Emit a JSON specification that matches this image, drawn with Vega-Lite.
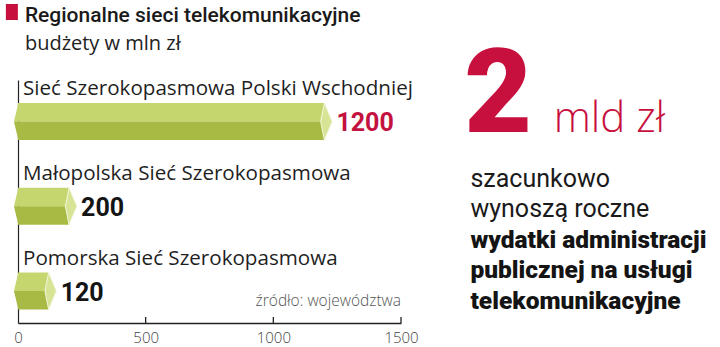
{
  "$schema": "https://vega.github.io/schema/vega-lite/v6.json",
  "width": 383,
  "height": 243,
  "padding": {"left": 5, "top": 4, "right": 0, "bottom": 0},
  "background": "white",
  "config": {"view": {"stroke": null}, "text": {"font": "Roboto"}},
  "datasets": {
    "budgets": [
      {"name": "Sieć Szerokopasmowa Polski Wschodniej", "value": 1200},
      {"name": "Małopolska Sieć Szerokopasmowa", "value": 200},
      {"name": "Pomorska Sieć Szerokopasmowa", "value": 120}
    ],
    "header": [
      {"title": "Regionalne sieci telekomunikacyjne", "subtitle": "budżety w mln zł", "amount": "2", "unit": "mld zł", "source": "źródło: województwa"}
    ],
    "note": [
      {"line": 1, "text": "szacunkowo"},
      {"line": 2, "text": "wynoszą roczne"},
      {"line": 3, "text": "wydatki administracji"},
      {"line": 4, "text": "publicznej na usługi"},
      {"line": 5, "text": "telekomunikacyjne"}
    ],
    "axisticks": [
      {"tick": 500},
      {"tick": 1000},
      {"tick": 1500}
    ]
  },
  "resolve": {"scale": {"y": "independent"}},
  "layer": [
    {
      "data": {"name": "budgets"},
      "encoding": {
        "y": {
          "field": "name", "type": "nominal", "sort": null, "title": null,
          "scale": {"type": "point", "padding": 0.434, "align": 0.565},
          "axis": {"domain": true, "ticks": false, "labels": false, "grid": false, "title": null, "domainColor": "#222222", "domainWidth": 1.2}
        }
      },
      "layer": [
        {
          "mark": {"type": "bar", "orient": "horizontal", "height": 18.5, "yOffset": -9.25, "color": "#c6d66e"},
          "encoding": {
            "x": {
              "field": "value", "type": "quantitative", "title": null,
              "scale": {"domain": [0, 1500], "nice": false, "zero": true},
              "axis": {"values": [0, 500, 1000, 1500], "format": "d", "title": null, "grid": false, "domainColor": "#222222", "domainWidth": 1.4, "ticks": false, "labelPadding": 7, "labelFont": "Open Sans", "labelFontSize": 15, "labelFontWeight": 300, "labelColor": "#444444", "labelFlush": false}
            }
          }
        },
        {
          "mark": {"type": "bar", "orient": "horizontal", "height": 18.5, "yOffset": 9.25, "color": "#a8ba44"},
          "encoding": {
            "x": {"field": "value", "type": "quantitative", "title": null, "scale": {"domain": [0, 1500], "nice": false, "zero": true}}
          }
        },
        {
          "mark": {"type": "point", "shape": "M0,-1L0.42,0L0,1L-0.2,0Z", "size": 1369, "filled": true, "opacity": 1, "fill": "#d7e495", "stroke": "#f3f7de", "strokeWidth": 1},
          "encoding": {
            "x": {"field": "value", "type": "quantitative", "title": null, "scale": {"domain": [0, 1500], "nice": false, "zero": true}}
          }
        },
        {
          "mark": {"type": "point", "shape": "M0.02,-1L-0.22,0L0.02,0Z", "size": 1369, "filled": true, "opacity": 1, "fill": "#c6d66e", "strokeWidth": 0},
          "encoding": {
            "x": {"datum": 0, "type": "quantitative", "title": null, "scale": {"domain": [0, 1500], "nice": false, "zero": true}}
          }
        },
        {
          "mark": {"type": "point", "shape": "M0.02,0L-0.22,0L0.02,1Z", "size": 1369, "filled": true, "opacity": 1, "fill": "#a8ba44", "strokeWidth": 0},
          "encoding": {
            "x": {"datum": 0, "type": "quantitative", "title": null, "scale": {"domain": [0, 1500], "nice": false, "zero": true}}
          }
        },
        {
          "mark": {"type": "text", "align": "left", "baseline": "alphabetic", "dx": 5, "dy": -26.5, "font": "Open Sans", "fontSize": 20.6, "color": "#1f1f1f"},
          "encoding": {
            "x": {"datum": 0, "type": "quantitative", "title": null, "scale": {"domain": [0, 1500], "nice": false, "zero": true}},
            "text": {"field": "name"}
          }
        },
        {
          "mark": {"type": "text", "align": "left", "baseline": "middle", "dx": 12, "dy": 1.5, "font": "Roboto", "fontSize": 25, "fontWeight": "bold"},
          "encoding": {
            "x": {"field": "value", "type": "quantitative", "title": null, "scale": {"domain": [0, 1500], "nice": false, "zero": true}},
            "text": {"field": "value", "type": "quantitative"},
            "color": {"condition": {"test": "datum.value >= 1000", "value": "#c4123f"}, "value": "#141414"}
          }
        }
      ]
    },
    {
      "layer": [
        {
          "data": {"name": "axisticks"},
          "mark": {"type": "tick", "orient": "vertical", "size": 6, "thickness": 1.3, "color": "#222222", "opacity": 1},
          "encoding": {
            "x": {"field": "tick", "type": "quantitative", "title": null, "scale": {"domain": [0, 1500], "nice": false, "zero": true}},
            "y": {"datum": 5.375, "type": "quantitative", "title": null, "scale": {"domain": [-2.52, 5.474], "reverse": true, "nice": false, "zero": false}, "axis": null}
          }
        },
        {
          "data": {"name": "header"},
          "mark": {"type": "point", "shape": "M-0.75,-1L0.75,-1L0.75,1L-0.75,1Z", "size": 256, "filled": true, "opacity": 1, "fill": "#c8103e", "strokeWidth": 0},
          "encoding": {
            "x": {"datum": -24, "type": "quantitative", "title": null, "scale": {"domain": [0, 1500], "nice": false, "zero": true}},
            "y": {"datum": -4.757, "type": "quantitative", "title": null, "scale": {"domain": [-2.52, 5.474], "reverse": true, "nice": false, "zero": false}, "axis": null}
          }
        },
        {
          "data": {"name": "header"},
          "mark": {"type": "text", "align": "left", "baseline": "alphabetic", "font": "Roboto", "fontSize": 21, "fontWeight": 500, "color": "#1a1a1a"},
          "encoding": {
            "x": {"datum": 27, "type": "quantitative", "title": null, "scale": {"domain": [0, 1500], "nice": false, "zero": true}},
            "y": {"datum": -4.4375, "type": "quantitative", "title": null, "scale": {"domain": [-2.52, 5.474], "reverse": true, "nice": false, "zero": false}, "axis": null},
            "text": {"field": "title"}
          }
        },
        {
          "data": {"name": "header"},
          "mark": {"type": "text", "align": "left", "baseline": "alphabetic", "font": "Open Sans", "fontSize": 20, "color": "#222222"},
          "encoding": {
            "x": {"datum": 27, "type": "quantitative", "title": null, "scale": {"domain": [0, 1500], "nice": false, "zero": true}},
            "y": {"datum": -3.507, "type": "quantitative", "title": null, "scale": {"domain": [-2.52, 5.474], "reverse": true, "nice": false, "zero": false}, "axis": null},
            "text": {"field": "subtitle"}
          }
        },
        {
          "data": {"name": "header"},
          "mark": {"type": "text", "align": "left", "baseline": "alphabetic", "font": "Roboto", "fontSize": 117, "fontWeight": 900, "color": "#c8103e"},
          "encoding": {
            "x": {"datum": 1748, "type": "quantitative", "title": null, "scale": {"domain": [0, 1500], "nice": false, "zero": true}},
            "y": {"datum": -0.809, "type": "quantitative", "title": null, "scale": {"domain": [-2.52, 5.474], "reverse": true, "nice": false, "zero": false}, "axis": null},
            "text": {"field": "amount"}
          }
        },
        {
          "data": {"name": "header"},
          "mark": {"type": "text", "align": "left", "baseline": "alphabetic", "font": "Open Sans", "fontSize": 42, "fontWeight": 300, "color": "#c8103e"},
          "encoding": {
            "x": {"datum": 2098, "type": "quantitative", "title": null, "scale": {"domain": [0, 1500], "nice": false, "zero": true}},
            "y": {"datum": -0.809, "type": "quantitative", "title": null, "scale": {"domain": [-2.52, 5.474], "reverse": true, "nice": false, "zero": false}, "axis": null},
            "text": {"field": "unit"}
          }
        },
        {
          "data": {"name": "header"},
          "mark": {"type": "text", "align": "right", "baseline": "alphabetic", "font": "Open Sans", "fontSize": 15.5, "fontWeight": 300, "color": "#555555"},
          "encoding": {
            "x": {"datum": 1500, "type": "quantitative", "title": null, "scale": {"domain": [0, 1500], "nice": false, "zero": true}},
            "y": {"datum": 4.914, "type": "quantitative", "title": null, "scale": {"domain": [-2.52, 5.474], "reverse": true, "nice": false, "zero": false}, "axis": null},
            "text": {"field": "source"}
          }
        },
        {
          "data": {"name": "note"},
          "transform": [{"filter": "datum.line <= 2"}],
          "mark": {"type": "text", "align": "left", "baseline": "alphabetic", "font": "Roboto", "fontSize": 25, "color": "#1a1a1a"},
          "encoding": {
            "x": {"datum": 1772, "type": "quantitative", "title": null, "scale": {"domain": [0, 1500], "nice": false, "zero": true}},
            "y": {"field": "line", "type": "quantitative", "title": null, "scale": {"domain": [-2.52, 5.474], "reverse": true, "nice": false, "zero": false}, "axis": null},
            "text": {"field": "text"}
          }
        },
        {
          "data": {"name": "note"},
          "transform": [{"filter": "datum.line >= 3"}],
          "mark": {"type": "text", "align": "left", "baseline": "alphabetic", "font": "Roboto", "fontSize": 24.5, "fontWeight": 900, "color": "#141414"},
          "encoding": {
            "x": {"datum": 1772, "type": "quantitative", "title": null, "scale": {"domain": [0, 1500], "nice": false, "zero": true}},
            "y": {"field": "line", "type": "quantitative", "title": null, "scale": {"domain": [-2.52, 5.474], "reverse": true, "nice": false, "zero": false}, "axis": null},
            "text": {"field": "text"}
          }
        }
      ]
    }
  ]
}
